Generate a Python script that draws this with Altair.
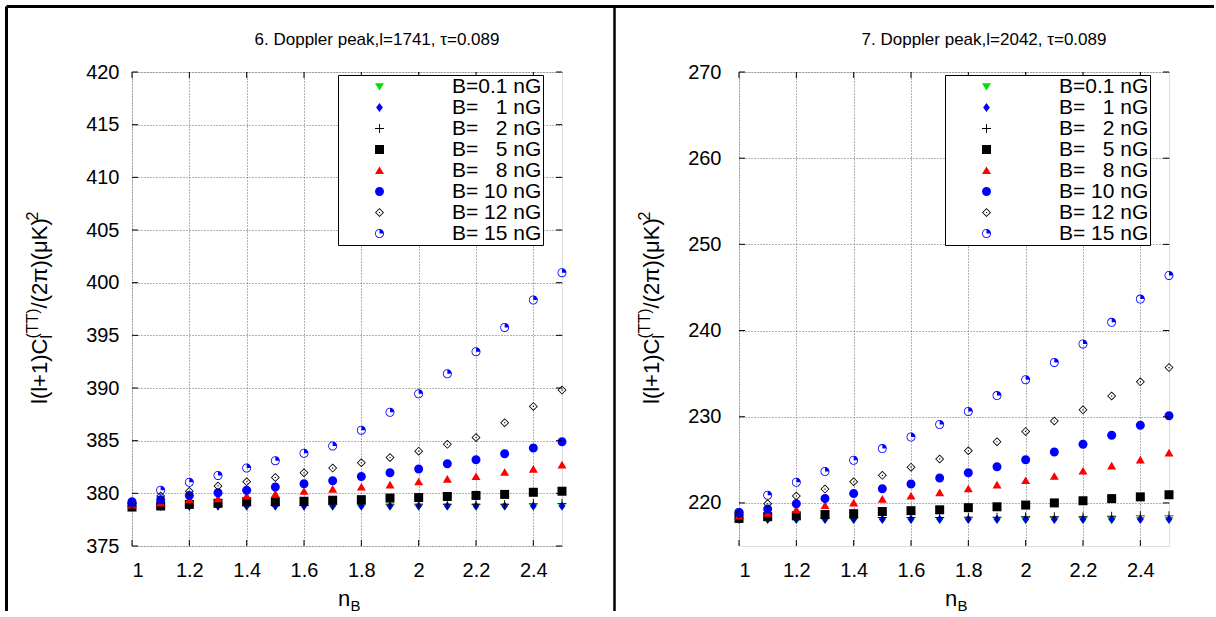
import altair as alt
import pandas as pd

FONT = "Liberation Sans"

nB = [1.0, 1.1, 1.2, 1.3, 1.4, 1.5, 1.6, 1.7, 1.8, 1.9, 2.0, 2.1, 2.2, 2.3, 2.4, 2.5]

NB = "\u00a0"
labels = [
    "B=0.1 nG" + NB * 2,
    "B=" + NB * 3 + "1 nG" + NB * 2,
    "B=" + NB * 3 + "2 nG" + NB * 2,
    "B=" + NB * 3 + "5 nG" + NB * 2,
    "B=" + NB * 3 + "8 nG" + NB * 2,
    "B=" + NB + "10 nG" + NB * 2,
    "B=" + NB + "12 nG" + NB * 2,
    "B=" + NB + "15 nG" + NB * 2,
]

# left panel: 6. Doppler peak, l=1741
left_vals = [
    [378.75] * 16,
    [378.8] * 16,
    [378.8, 378.8, 378.8, 378.85, 378.85, 378.85, 378.85, 378.9, 378.9, 378.9, 378.9, 378.95, 378.95, 378.95, 379.0, 379.05],
    [378.7, 378.8, 378.95, 379.05, 379.2, 379.2, 379.25, 379.35, 379.4, 379.55, 379.6, 379.7, 379.8, 379.9, 380.1, 380.2],
    [378.9, 379.1, 379.4, 379.5, 379.75, 379.95, 380.2, 380.4, 380.6, 380.8, 381.1, 381.35, 381.6, 382.0, 382.3, 382.7],
    [379.2, 379.4, 379.8, 380.05, 380.3, 380.6, 380.9, 381.2, 381.6, 381.95, 382.3, 382.8, 383.2, 383.75, 384.3, 384.9],
    [379.0, 379.75, 380.2, 380.7, 381.1, 381.5, 381.95, 382.4, 382.9, 383.4, 384.0, 384.65, 385.3, 386.7, 388.25, 389.8],
    [379.1, 380.3, 381.05, 381.7, 382.4, 383.1, 383.8, 384.5, 386.0, 387.7, 389.45, 391.35, 393.45, 395.75, 398.35, 400.95],
]

# right panel: 7. Doppler peak, l=2042
right_vals = [
    [218.0] * 16,
    [218.1] * 16,
    [218.2, 218.2, 218.25, 218.25, 218.25, 218.3, 218.3, 218.3, 218.35, 218.35, 218.4, 218.4, 218.4, 218.45, 218.5, 218.5],
    [218.2, 218.4, 218.5, 218.65, 218.75, 219.0, 219.1, 219.2, 219.45, 219.55, 219.75, 220.0, 220.25, 220.5, 220.7, 220.95],
    [218.5, 218.8, 219.2, 219.7, 220.0, 220.45, 220.8, 221.2, 221.65, 222.1, 222.6, 223.1, 223.7, 224.3, 225.0, 225.8],
    [218.9, 219.3, 219.9, 220.5, 221.1, 221.65, 222.2, 222.9, 223.5, 224.2, 225.0, 225.9, 226.8, 227.85, 229.0, 230.1],
    [218.7, 219.9, 220.8, 221.6, 222.45, 223.2, 224.15, 225.1, 226.05, 227.1, 228.3, 229.5, 230.8, 232.4, 234.05, 235.7],
    [218.9, 220.9, 222.4, 223.65, 224.95, 226.3, 227.65, 229.1, 230.6, 232.45, 234.3, 236.3, 238.45, 240.95, 243.65, 246.4],
]

x_ticks = [1, 1.2, 1.4, 1.6, 1.8, 2, 2.2, 2.4]
left_y_ticks = [375, 380, 385, 390, 395, 400, 405, 410, 415, 420]
right_y_ticks = [220, 230, 240, 250, 260, 270]

colors = ["#00e000", "#0000ff", "#000000", "#000000", "#ff0000", "#0000ff", "#000000", "#0000ff"]
shapes = [
    "M-1,-0.7L1,-0.7L0,0.9Z",
    "M0,-1L0.75,0L0,1L-0.75,0Z",
    "M-1,-0.1L-0.1,-0.1L-0.1,-1L0.1,-1L0.1,-0.1L1,-0.1L1,0.1L0.1,0.1L0.1,1L-0.1,1L-0.1,0.1L-1,0.1Z",
    "M-1,-1L1,-1L1,1L-1,1Z",
    "M-1,0.8L1,0.8L0,-0.9Z",
    "M1,0A1,1 0 1,1 -1,0A1,1 0 1,1 1,0Z",
    "M0,-1L1,0L0,1L-1,0Z M0,-0.74L-0.74,0L0,0.74L0.74,0Z M-0.13,-0.13L0.13,-0.13L0.13,0.13L-0.13,0.13Z",
    "M0,-1A1,1 0 0,1 0,1A1,1 0 0,1 0,-1Z M0,-0.82A0.82,0.82 0 0,0 0,0.82A0.82,0.82 0 0,0 0,-0.82Z M0,0L0,-0.82A0.82,0.82 0 0,1 0.82,0Z",
]
sizes = [81, 81, 100, 144, 110, 144, 132, 150]

W, H = 430, 474


def text_layer(t, x, y, size, angle=0, align="left"):
    return alt.Chart(pd.DataFrame({"t": [t]})).mark_text(
        font=FONT, fontSize=size, color="black", align=align, baseline="alphabetic", angle=angle
    ).encode(text="t:N", x=alt.value(x), y=alt.value(y))


def line_layer(x, x2, y, y2, w):
    return alt.Chart(pd.DataFrame({"a": [0]})).mark_rule(color="black", strokeWidth=w).encode(
        x=alt.value(x), x2=alt.value(x2), y=alt.value(y), y2=alt.value(y2)
    )


def panel(vals, ydom, yticks, title, ylab_pad, ytitle_x, frame_layers):
    rows = []
    for i, lab in enumerate(labels):
        for j, xv in enumerate(nB):
            rows.append({"nB": xv, "v": vals[i][j], "B": lab, "o": i * 100 + j})
    df = pd.DataFrame(rows)

    xs = alt.Scale(domain=[1, 2.5], nice=False, zero=False)
    ys = alt.Scale(domain=ydom, nice=False, zero=False)
    xax = alt.Axis(
        values=x_ticks, format="~g", title=None, grid=True, ticks=False, domain=False,
        labelFont=FONT, labelFontSize=20, labelColor="black", labelPadding=14,
        gridColor="#666", gridDash=[1, 2], gridWidth=1)
    yax = alt.Axis(
        values=yticks, title=None, grid=True, ticks=False, domain=False,
        labelFont=FONT, labelFontSize=20, labelColor="black", labelPadding=ylab_pad,
        gridColor="#666", gridDash=[1, 2], gridWidth=1)

    leg = alt.Legend(
        title=None, orient="none", legendX=206, legendY=3, padding=1,
        strokeColor="black", fillColor="white", labelFont=FONT, labelFontSize=21,
        labelColor="black", rowPadding=-1, symbolOffset=30, labelOffset=62,
        symbolStrokeWidth=0, labelLimit=300,
    )

    pts = alt.Chart(df).mark_point(filled=True, opacity=1, strokeWidth=0).encode(
        x=alt.X("nB:Q", scale=xs, axis=xax),
        y=alt.Y("v:Q", scale=ys, axis=yax),
        color=alt.Color("B:N", scale=alt.Scale(domain=labels, range=colors), legend=leg),
        shape=alt.Shape("B:N", scale=alt.Scale(domain=labels, range=shapes), legend=leg),
        size=alt.Size("B:N", scale=alt.Scale(domain=labels, range=sizes), legend=leg),
        order=alt.Order("o:Q"),
    )

    xt = pd.DataFrame({"nB": x_ticks})
    yt = pd.DataFrame({"v": yticks})
    tick_style = dict(color="black", strokeWidth=1)
    xb = alt.Chart(xt).mark_rule(**tick_style).encode(
        x=alt.X("nB:Q", scale=xs, axis=xax), y=alt.value(H), y2=alt.value(H - 6))
    xtp = alt.Chart(xt).mark_rule(**tick_style).encode(
        x=alt.X("nB:Q", scale=xs, axis=xax), y=alt.value(0), y2=alt.value(6))
    yl = alt.Chart(yt).mark_rule(**tick_style).encode(
        y=alt.Y("v:Q", scale=ys, axis=yax), x=alt.value(0), x2=alt.value(6))
    yr = alt.Chart(yt).mark_rule(**tick_style).encode(
        y=alt.Y("v:Q", scale=ys, axis=yax), x=alt.value(W), x2=alt.value(W - 6))

    texts = [
        text_layer(title, W / 2 + 30, -27, 17, align="center"),
        text_layer("n", 206, 534, 22),
        text_layer("B", 218.5, 539, 15),
        text_layer("l(l+1)C", ytitle_x, 332, 22, angle=270),
        text_layer("l", ytitle_x + 5, 266.6, 16, angle=270),
        text_layer("(TT)", ytitle_x - 9, 266.6, 16, angle=270),
        text_layer("/(2\u03c0)(\u03bcK)", ytitle_x, 236.4, 22, angle=270),
        text_layer("2", ytitle_x - 9, 148.6, 16, angle=270),
    ]

    return alt.layer(pts, xb, xtp, yl, yr, *texts, *frame_layers).properties(width=W, height=H)


left_frame = [
    line_layer(-125.5, 482.5, -65.5, -65.5, 3),
    line_layer(-125.5, -125.5, -65.5, 539, 3),
]
right_frame = [
    line_layer(-125, 475, -65.5, -65.5, 3),
    line_layer(-124.5, -124.5, -65.5, 539, 2.5),
]

p1 = panel(left_vals, [375, 420], left_y_ticks, "6. Doppler peak,l=1741, \u03c4=0.089", 13, -85, left_frame)
p2 = panel(right_vals, [215, 270], right_y_ticks, "7. Doppler peak,l=2042, \u03c4=0.089", 18, -80, right_frame)

chart = alt.hconcat(p1, p2, spacing=177, bounds="flush").resolve_scale(
    color="independent", shape="independent", size="independent"
).resolve_legend(
    color="independent", shape="independent", size="independent"
).configure_view(
    stroke="black", strokeWidth=1.5
).configure(
    background="white"
).properties(
    padding={"left": 4, "top": 4, "right": 0, "bottom": 0}
)

chart.save("out.html", embed_options={"renderer": "svg", "actions": False})
